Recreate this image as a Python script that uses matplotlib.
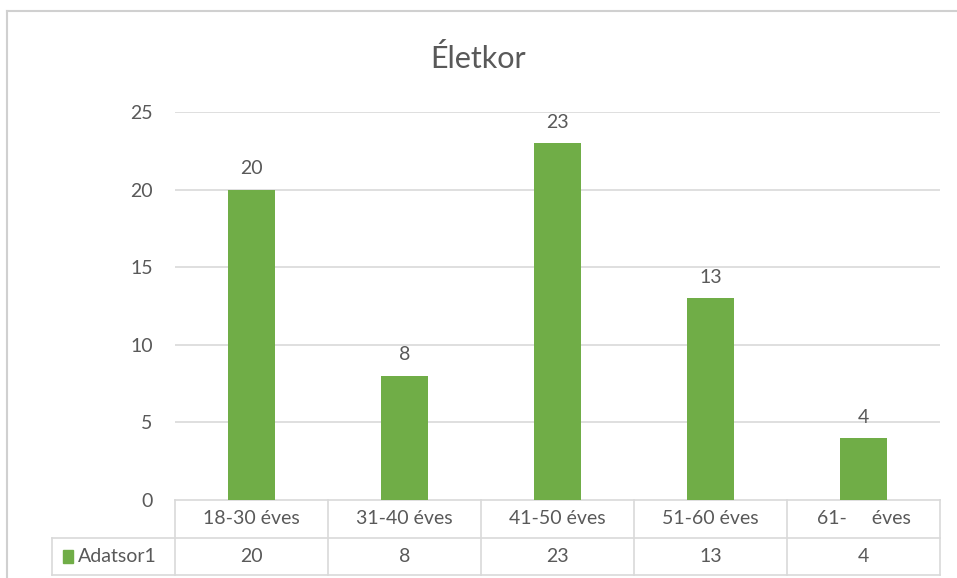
import matplotlib.pyplot as plt
from matplotlib.transforms import blended_transform_factory
from matplotlib.lines import Line2D
from matplotlib.patches import Rectangle

plt.rcParams['font.family'] = ['Lato', 'DejaVu Sans']

categories = ['18-30 éves', '31-40 éves', '41-50 éves', '51-60 éves', '61-     éves']
values = [20, 8, 23, 13, 4]
series_name = 'Adatsor1'
title = 'Életkor'

green = '#70AD47'
txt = '#595959'
grid = '#D9D9D9'
fs = 14

W, H = 957, 578
fig = plt.figure(figsize=(W / 100, H / 100), dpi=100)

# plot area in pixel terms
left, right, top, bottom = 175, 940, 112, 500
ax = fig.add_axes([left / W, 1 - bottom / H, (right - left) / W, (bottom - top) / H])
x = list(range(len(categories)))
ax.bar(x, values, width=0.31, color=green, zorder=3)
ax.set_xlim(-0.5, len(categories) - 0.5)
ax.set_ylim(0, 25)
ax.set_yticks([0, 5, 10, 15, 20, 25])
for t in [5, 10, 15, 20, 25]:
    ax.axhline(t, color=grid, lw=1.2, zorder=1)
ax.set_xticks([])
for s in ax.spines.values():
    s.set_visible(False)
ax.tick_params(axis='y', length=0, pad=16, labelsize=fs, labelcolor=txt)

for i, v in enumerate(values):
    ax.text(i, v + 0.8, str(v), ha='center', va='bottom', fontsize=fs, color=txt)

fig.text(0.5, 1 - 58 / H, title, ha='center', va='center', fontsize=22, color=txt)

# data table under the axis
tr = blended_transform_factory(ax.transData, ax.transAxes)
ph = bottom - top
y_top = 0
y_mid = -(538 - bottom) / ph
y_bot = -(575 - bottom) / ph
x_leg = -0.5 - (left - 52) / ((right - left) / len(categories))
x_end = len(categories) - 0.5

def hline(y, x0, x1):
    ax.add_line(Line2D([x0, x1], [y, y], transform=tr, color=grid, lw=1.2, clip_on=False))

def vline(xx, y0, y1):
    ax.add_line(Line2D([xx, xx], [y0, y1], transform=tr, color=grid, lw=1.2, clip_on=False))

hline(y_top, -0.5, x_end)
hline(y_mid, x_leg, x_end)
hline(y_bot, x_leg, x_end)
vline(x_leg, y_mid, y_bot)
for b in range(len(categories) + 1):
    vline(b - 0.5, y_top, y_bot)

for i, c in enumerate(categories):
    ax.text(i, (y_top + y_mid) / 2, c, transform=tr, ha='center', va='center',
            fontsize=fs, color=txt)
    ax.text(i, (y_mid + y_bot) / 2, str(values[i]), transform=tr, ha='center',
            va='center', fontsize=fs, color=txt)

ax.text(x_leg + 0.17, (y_mid + y_bot) / 2, series_name, transform=tr, ha='left',
        va='center', fontsize=fs, color=txt)
ax.add_patch(Rectangle((x_leg + 0.07, (y_mid + y_bot) / 2 - 0.017), 0.07, 0.034,
                       transform=tr, color=green, clip_on=False))

# chart border
fig.add_artist(Line2D([7 / W, 1], [1 - 11 / H, 1 - 11 / H], color='#D0D0D0', lw=1.5))
fig.add_artist(Line2D([7 / W, 7 / W], [0, 1 - 11 / H], color='#D0D0D0', lw=1.5))

fig.savefig('out.png', dpi=100)
